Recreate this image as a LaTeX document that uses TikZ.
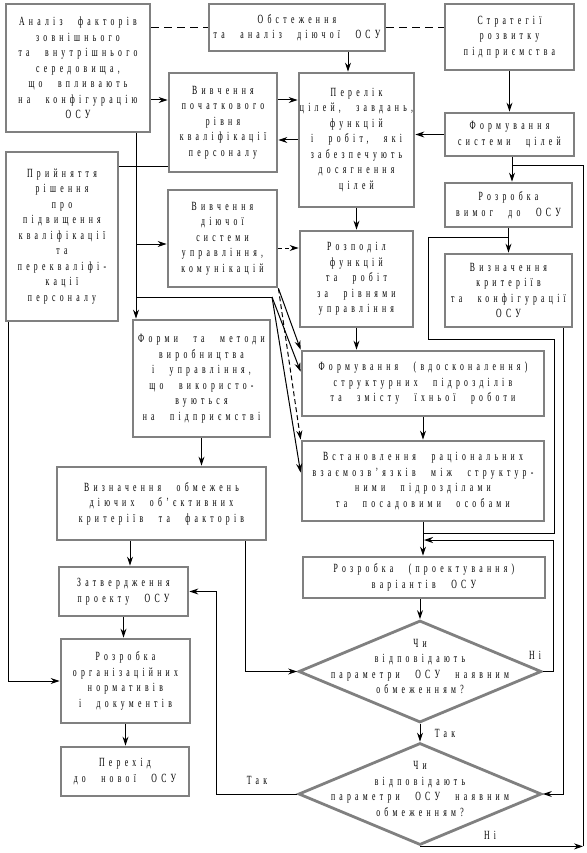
\documentclass[tikz,border=0pt]{standalone}
\usepackage{fontspec}
\setmainfont{Liberation Serif}[FakeStretch=0.62,LetterSpace=34,WordSpace=2.5]
\usetikzlibrary{calc,arrows.meta,shapes.geometric}

\begin{document}
\begin{tikzpicture}[x=1pt,y=-1pt,font=\fontsize{12.5}{15.5}\selectfont,
  blk/.style={draw=black!50,line width=2.8pt,fill=white,align=center,inner sep=0pt},
  dmd/.style={diamond,draw=black!50,line width=2.8pt,fill=white,inner sep=0pt,
              minimum width=243pt,minimum height=102pt},
  arr/.style={-{Stealth[length=9pt,width=6pt]},line width=1pt},
  ln/.style={line width=1pt},
  dsh/.style={line width=1pt,dash pattern=on 8pt off 5pt}]

  \useasboundingbox (0,0) rectangle (586,853);

  % ---- top row ----
  \node[blk,minimum width=144pt,minimum height=128pt] (A) at (78,68)
    {Аналіз факторів\\ зовнішнього\\ та внутрішнього\\ середовища,\\ що впливають\\ на конфігурацію\\ ОСУ};
  \node[blk,minimum width=176pt,minimum height=47pt] (O) at (297,27.5)
    {Обстеження\\ та аналіз діючої ОСУ};
  \node[blk,minimum width=129pt,minimum height=66pt] (S) at (509.5,37)
    {Стратегії\\ розвитку\\ підприємства};

  % ---- second band ----
  \node[blk,minimum width=108pt,minimum height=99pt] (V1) at (223,122.5)
    {Вивчення\\ початкового\\ рівня\\ кваліфікації\\ персоналу};
  \node[blk,minimum width=115pt,minimum height=134pt] (P) at (356.5,140)
    {Перелік\\ цілей, завдань,\\ функцій\\ і робіт, які\\ забезпечують\\ досягнення\\ цілей};
  \node[blk,minimum width=129pt,minimum height=43pt] (F) at (509.5,134.5)
    {Формування\\ системи цілей};
  \node[blk,minimum width=112pt,minimum height=169pt] (R) at (62,236.5)
    {Прийняття\\ рішення\\ про\\ підвищення\\ кваліфікації\\ та\\ перекваліфі-\\ кації\\ персоналу};
  \node[blk,minimum width=109pt,minimum height=97pt] (V2) at (222.5,238.5)
    {Вивчення\\ діючої\\ системи\\ управління,\\ комунікацій};
  \node[blk,minimum width=113pt,minimum height=96pt] (RF) at (356.5,279)
    {Розподіл\\ функцій\\ та робіт\\ за рівнями\\ управління};
  \node[blk,minimum width=127pt,minimum height=44pt] (RV) at (508.5,205)
    {Розробка\\ вимог до ОСУ};
  \node[blk,minimum width=127pt,minimum height=73pt] (VK) at (508.5,290.5)
    {Визначення\\ критеріїв\\ та конфігурації\\ ОСУ};

  % ---- middle ----
  \node[blk,minimum width=137pt,minimum height=117pt] (FM) at (201.5,378.5)
    {Форми та методи\\ виробництва\\ і управління,\\ що використо-\\ вуються\\ на підприємстві};
  \node[blk,minimum width=242pt,minimum height=65pt] (FV) at (423,383.5)
    {Формування (вдосконалення)\\ структурних підрозділів\\ та змісту їхньої роботи};
  \node[blk,minimum width=242pt,minimum height=80pt] (VR) at (423,481)
    {Встановлення раціональних\\ взаємозв’язків між структур-\\ ними підрозділами\\ та посадовими особами};
  \node[blk,minimum width=209pt,minimum height=73pt] (VO) at (161.5,503.5)
    {Визначення обмежень\\ діючих об’єктивних\\ критеріїв та факторів};

  % ---- bottom ----
  \node[blk,minimum width=129pt,minimum height=49pt] (ZP) at (123.5,591.5)
    {Затвердження\\ проекту ОСУ};
  \node[blk,minimum width=129pt,minimum height=84pt] (RO) at (125.5,681)
    {Розробка\\ організаційних\\ нормативів\\ і документів};
  \node[blk,minimum width=128pt,minimum height=49pt] (PN) at (125,771.5)
    {Перехід\\ до нової ОСУ};
  \node[blk,minimum width=242pt,minimum height=41pt] (RP) at (424,577.5)
    {Розробка (проектування)\\ варіантів ОСУ};
  \node[dmd] (D1) at (420,671.5) {};
  \node[align=center] (D1t) at ([yshift=5pt]D1.center)
    {Чи\\ відповідають\\ параметри ОСУ наявним\\ обмеженням?};
  \node[dmd] (D2) at (420,794) {};
  \node[align=center] (D2t) at ([yshift=5pt]D2.center)
    {Чи\\ відповідають\\ параметри ОСУ наявним\\ обмеженням?};

  \node (ni1) at (535,655) {Ні};
  \node (tak1) at (445,733) {Так};
  \node (tak2) at (257,780) {Так};
  \node (ni2) at (490,835) {Ні};

  % ---- helper points ----
  \coordinate (tr) at ([xshift=58pt]A.south);
  \coordinate (hj) at (272,297);
  \coordinate (fj) at ([xshift=2.5pt,yshift=-8pt]F.south);
  \coordinate (rr) at (583,846);
  \coordinate (rj) at ([yshift=-9pt]RV.south);
  \coordinate (lw) at (428,339);
  \coordinate (le) at (554,533);
  \coordinate (nj) at (553,540);

  % ---- connectors ----
  \draw[dsh] (A.east |- O.west) -- (O.west);
  \draw[dsh] (O.east) -- (O.east -| S.west);
  \draw[arr] ([xshift=-8.5pt]P.north |- O.south) -- ([xshift=-8.5pt]P.north);
  \draw[arr] (S.south) -- (F.north);
  \draw[arr] (F.west) -- (F.west -| P.east);
  \draw[arr] ([yshift=22.5pt]V1.west -| A.east) -- ([yshift=22.5pt]V1.west);
  \draw[arr] ([yshift=22.5pt]V1.east) -- ([yshift=22.5pt]V1.east -| P.west);
  \draw[arr] (P.west) -- (P.west -| V1.east);
  \draw[ln] ([yshift=-44.5pt]V1.west -| R.east) -- ([yshift=-44.5pt]V1.west);
  \draw[arr] (tr) -- (tr |- FM.north);
  \draw[arr] ([yshift=-5.5pt]V2.west -| tr) -- ([yshift=-5.5pt]V2.west);
  \draw[ln] (hj -| tr) -- (hj);
  \draw[arr,dash pattern=on 4pt off 3pt] ([yshift=-9.5pt]V2.east) -- ([yshift=-9.5pt]V2.east -| RF.west);
  \draw[arr] (V2.south east) -- (FV.north west);
  \draw[arr] (hj) -- ([yshift=-22pt]FV.north west);
  \draw[arr,dash pattern=on 5pt off 3pt] (V2.south east) -- (VR.north west);
  \draw[arr] (hj) -- ([yshift=-33pt]VR.north west);

  \foreach \a/\b in {P/RF,RF/FV,FV/VR,VR/RP,RV/VK,ZP/RO,RO/PN,FM/VO}
    \draw[arr] (\a.south) -- (\a.south |- \b.north);
  \draw[arr] (fj |- F.south) -- (fj |- RV.north);
  \draw[arr] (RP.south -| D1.north) -- (D1.north);
  \draw[arr] (D1.south) -- (D2.north);
  \draw[arr] ([xshift=6.5pt]ZP.north |- VO.south) -- ([xshift=6.5pt]ZP.north);
  \draw[arr] ([xshift=83.5pt]VO.south) |- (D1.west);
  \draw[arr] ([xshift=-54pt]R.south) |- (RO.west);

  % loops on the right
  \draw[arr] (D2.south) -- (D2.south -| rr);
  \draw[ln] (D2.south -| rr) |- (fj);
  \draw[ln] (rj) -| (lw) -| (le) -- (le -| VR.south);
  \draw[arr] ([xshift=54.5pt]VK.south) |- (D2.east);
  \draw[arr] (D1.east) -| (nj) -- (nj -| RP.north);
  \draw[arr] (D2.west) -| ([xshift=27pt]ZP.east) -- (ZP.east);

\end{tikzpicture}
\end{document}
